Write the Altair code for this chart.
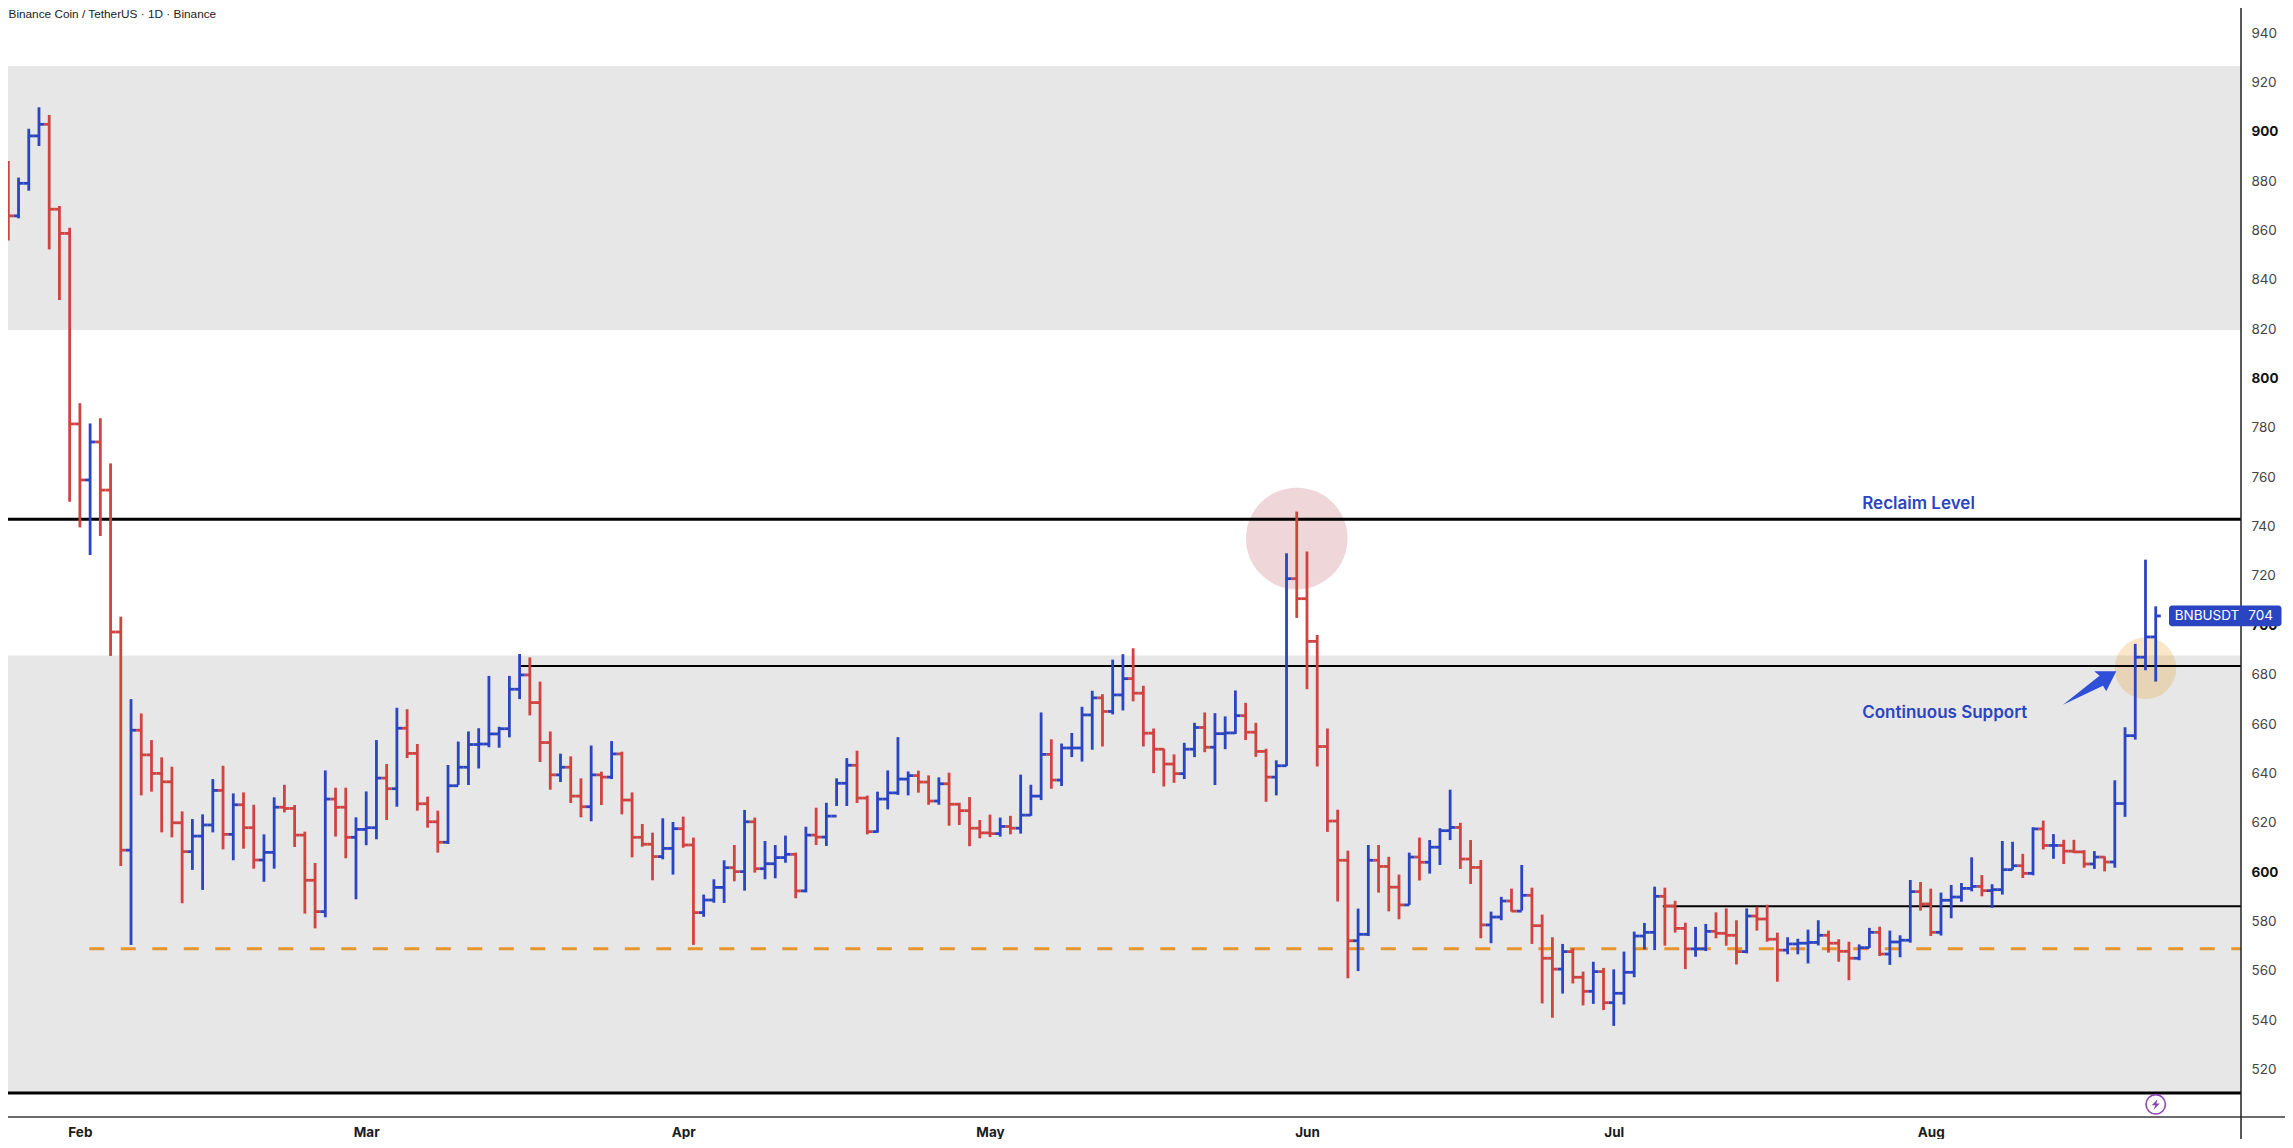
import altair as alt
import pandas as pd

highs = [888.1,881.4,901.2,909.9,906.8,869.9,861.1,790.0,781.8,783.9,765.6,
703.5,670.1,664.3,653.5,646.5,642.7,624.6,621.5,623.4,637.7,
643.1,631.9,632.3,627.3,615.3,630.3,635.4,627.2,616.4,603.7,
641.2,634.2,634.2,622.2,632.7,653.5,643.8,666.6,666.0,651.9,
630.6,624.9,643.4,652.9,657.0,658.3,679.5,658.9,679.5,688.4,
687.0,677.2,657.0,648.0,646.9,638.0,651.3,640.7,653.1,648.8,
632.3,619.5,616.0,621.8,620.3,622.5,614.0,590.9,597.1,604.8,
611.0,625.2,622.1,612.6,611.0,614.8,607.9,618.4,626.1,628.1,
638.0,646.2,649.2,631.0,632.6,641.2,654.7,640.8,641.1,639.2,
638.4,640.3,628.1,630.4,621.1,623.3,622.1,622.8,639.5,635.4,
664.7,653.8,652.1,656.4,667.0,673.5,672.1,686.1,688.3,690.7,
675.5,658.2,650.0,647.7,652.4,660.5,664.7,664.4,663.1,673.6,
668.6,660.5,650.0,645.3,729.2,746.1,729.9,696.1,658.2,625.3,
608.7,585.2,611.0,611.0,606.2,599.0,607.9,614.0,613.0,617.8,
633.4,620.0,613.0,604.9,584.0,590.0,593.3,602.9,593.7,582.8,
573.6,570.9,569.1,559.7,563.7,561.2,560.6,567.8,575.9,579.4,
594.1,593.7,588.4,579.5,577.8,579.0,583.7,585.3,580.5,585.3,
586.0,586.8,575.5,573.6,573.0,576.7,580.5,576.3,572.8,571.8,
570.7,577.4,577.9,576.3,574.4,596.8,596.0,593.3,591.7,594.8,
595.6,606.0,598.8,595.1,612.6,612.3,607.4,618.2,620.9,615.4,
613.1,613.1,608.9,608.5,606.4,637.2,658.7,692.5,726.6,707.7]

lows = [855.9,864.9,876.1,894.2,852.3,831.8,750.1,739.7,728.5,736.2,687.6,
602.5,570.5,631.1,632.6,616.1,614.1,587.4,600.9,592.8,616.1,
609.2,604.8,609.5,601.4,596.1,601.4,624.2,610.2,583.2,577.2,
581.7,614.4,605.6,589.0,610.9,613.3,621.1,626.5,646.2,624.9,
618.0,607.9,611.4,635.3,635.3,642.0,650.6,650.4,654.6,670.1,
663.5,644.6,633.4,636.5,628.0,622.2,620.6,627.2,637.7,623.4,
606.0,610.3,596.7,605.2,599.0,609.9,570.5,581.9,587.6,587.5,
596.3,592.5,599.8,597.1,597.5,603.8,589.4,591.8,611.0,610.6,
626.8,626.8,628.0,615.3,616.0,625.4,631.3,631.1,632.2,627.3,
627.3,618.8,619.1,610.5,613.7,614.2,614.4,615.3,615.6,622.8,
629.2,633.8,634.9,646.6,644.8,649.6,650.9,663.9,665.5,669.2,
650.9,640.1,634.7,636.2,637.7,646.6,648.6,635.3,649.8,656.0,
653.5,646.7,628.5,631.1,643.0,703.0,674.1,642.8,616.3,588.1,
557.0,559.9,574.1,591.7,584.1,580.9,586.7,596.6,599.4,602.9,
613.0,601.3,595.2,573.2,571.2,580.5,584.0,584.4,570.9,546.8,
541.0,550.8,554.9,546.0,546.6,544.1,537.7,546.4,557.4,568.7,
568.4,570.2,575.5,560.7,565.7,568.0,573.2,570.2,562.6,567.1,
576.3,571.8,555.6,566.7,566.7,563.0,570.3,567.4,563.7,556.2,
564.3,569.3,566.0,562.4,565.5,571.4,584.4,574.1,574.3,581.3,
588.0,592.2,590.2,585.5,590.9,601.0,597.6,598.7,609.2,605.4,
603.3,607.7,601.8,601.3,600.3,601.8,622.4,653.7,681.8,677.2]

closes = [865.9,879.1,898.3,903.0,868.6,858.8,781.6,758.9,774.3,754.8,697.3,
608.9,657.5,647.5,640.0,636.6,620.0,608.3,614.6,619.1,633.1,
615.3,627.3,618.0,604.9,608.0,626.3,625.8,615.0,596.7,584.0,
629.6,626.3,614.1,617.3,618.0,638.1,633.8,658.3,648.1,627.7,
620.4,612.1,635.0,642.5,651.7,651.9,656.0,658.1,674.1,679.9,
668.7,652.5,639.4,642.5,630.8,626.5,639.4,638.5,647.9,629.2,
614.1,611.3,606.3,609.6,617.6,611.0,583.6,588.7,593.8,601.8,
600.2,620.4,601.4,603.4,605.9,607.2,592.4,615.0,614.2,622.7,
636.0,643.3,630.0,616.4,629.6,632.1,637.7,639.1,636.5,628.8,
635.8,627.5,624.9,617.8,615.9,615.6,618.5,617.8,623.1,630.8,
647.7,637.3,650.3,650.3,663.7,670.6,665.1,671.8,678.4,672.5,
656.3,649.8,643.8,639.9,649.8,658.6,650.6,656.1,656.4,663.4,
656.7,648.9,638.5,643.1,718.9,710.8,693.5,650.9,620.7,604.8,
572.2,574.8,604.8,602.3,593.9,586.7,606.1,604.0,610.1,616.8,
618.1,605.3,601.9,578.6,581.8,588.3,584.2,590.6,578.3,565.1,
560.7,567.8,557.4,551.7,559.7,547.1,550.9,559.4,574.1,575.6,
590.2,586.3,577.2,568.9,568.9,576.0,575.2,574.4,567.8,582.2,
581.0,572.8,568.4,570.9,571.2,571.5,574.4,571.2,567.9,565.1,
569.4,575.6,566.8,571.7,572.4,592.1,587.1,575.6,588.6,589.9,
593.4,594.2,592.5,592.9,601.0,602.6,599.5,617.5,610.8,610.8,
608.5,608.2,603.3,606.1,604.1,627.8,655.3,687.1,695.3,703.8]

first_open = 886.9
opens = [first_open] + closes[:-1]

month_days = [7, 35, 66, 96, 127, 157, 188]
month_names = ["Feb", "Mar", "Apr", "May", "Jun", "Jul", "Aug"]
price_ticks = list(range(520, 941, 20))

BLUE = "#2A44C2"
RED = "#CF4341"
ORANGE = "#E8952E"
GREY = "#E7E7E7"
FONT = "Inter"

X_MIN, X_MAX = -0.03, 218.34
Y_MIN, Y_MAX = 500.78, 950.13
X_END = 229

xscale = alt.Scale(domain=[X_MIN, X_MAX], nice=False, zero=False)
yscale = alt.Scale(domain=[Y_MIN, Y_MAX], nice=False, zero=False)
X = alt.X("x:Q", scale=xscale, title=None)
X2 = alt.X2("x2:Q")
Y = alt.Y("y:Q", scale=yscale, title=None)
Y2 = alt.Y2("y2:Q")

bars = pd.DataFrame({"day": range(len(closes)), "open": opens, "high": highs,
                     "low": lows, "close": closes})
bars["dir"] = ["up" if c >= o else "down" for o, c in zip(opens, closes)]
bars["left"] = bars["day"] - 0.5
bars["right"] = bars["day"] + 0.5

color = alt.Color("dir:N", scale=alt.Scale(domain=["up", "down"], range=[BLUE, RED]), legend=None)
BAR_W = 2.8

base_axes = alt.Chart(pd.DataFrame({"x": [0.0], "y": [600.0]})).mark_point(opacity=0).encode(
    x=alt.X("x:Q", scale=xscale, title=None, axis=alt.Axis(
        values=month_days, orient="bottom",
        labelExpr="{" + ",".join(f"{d}:'{n}'" for d, n in zip(month_days, month_names)) + "}[datum.value]",
        labelFont=FONT, labelFontSize=13.5, labelFontWeight="bold", labelColor="#1c1c1c",
        labelPadding=8, labelOverlap=False, labelFlush=False, labelBound=False)),
    y=alt.Y("y:Q", scale=yscale, title=None, axis=alt.Axis(
        values=price_ticks, orient="right",
        labelFont=FONT, labelFontSize=13.5, labelPadding=10, labelOverlap=False,
        labelFlush=False, labelBound=False, labelAlign="left",
        labelFontWeight=alt.expr("datum.value % 100 == 0 ? 'bold' : 'normal'"),
        labelColor=alt.expr("datum.value % 100 == 0 ? '#111111' : '#444444'"))),
)

band_tops = [926.6, 687.8]
band_bottoms = [819.7, 510.6]
bands = alt.Chart(pd.DataFrame({"x": [X_MIN] * 2, "x2": [X_MAX] * 2, "y": band_tops, "y2": band_bottoms})
    ).mark_rect(color=GREY).encode(x=X, x2=X2, y=Y, y2=Y2)

circle_days = [126, 209.0]
circle_prices = [735.2, 682.6]
circle_sizes = [10323, 3795]
circle_colors = ["#B8434F", "#E78C08"]
circles = alt.Chart(pd.DataFrame({"x": circle_days, "y": circle_prices, "s": circle_sizes, "c": circle_colors})
    ).mark_circle(opacity=0.22).encode(
        x=X, y=Y, size=alt.Size("s:Q", scale=None, legend=None),
        color=alt.Color("c:N", scale=None, legend=None))

line_prices = [743.0, 683.5, 586.2, 510.5]
line_starts = [X_MIN, 50.0, 161.8, X_MIN]
line_widths = [3.0, 2.0, 2.0, 3.2]
hlines = alt.Chart(pd.DataFrame({"x": line_starts, "x2": [X_MAX] * 4, "y": line_prices, "w": line_widths})
    ).mark_rule(color="#000000").encode(
        x=X, x2=X2, y=Y, strokeWidth=alt.StrokeWidth("w:Q", scale=None, legend=None))

support = alt.Chart(pd.DataFrame({"x": [7.92], "x2": [X_MAX], "y": [569.0]})
    ).mark_rule(color=ORANGE, strokeWidth=3, strokeDash=[15, 16.5]).encode(x=X, x2=X2, y=Y)

axis_h = alt.Chart(pd.DataFrame({"x": [X_MIN], "x2": [X_END], "y": [Y_MIN]})
    ).mark_rule(color="#3a3a3a", strokeWidth=1.5).encode(x=X, x2=X2, y=Y)
axis_v = alt.Chart(pd.DataFrame({"x": [X_MAX], "y": [Y_MAX], "y2": [489.5]})
    ).mark_rule(color="#222222", strokeWidth=1.5).encode(x=X, y=Y, y2=Y2)

wicks = alt.Chart(bars).mark_rule(strokeWidth=BAR_W).encode(
    x=alt.X("day:Q", scale=xscale, title=None),
    y=alt.Y("low:Q", scale=yscale, title=None), y2="high:Q", color=color)
open_ticks = alt.Chart(bars).mark_rule(strokeWidth=BAR_W).encode(
    x=alt.X("left:Q", scale=xscale, title=None), x2="day:Q",
    y=alt.Y("open:Q", scale=yscale, title=None), color=color)
close_ticks = alt.Chart(bars).mark_rule(strokeWidth=BAR_W).encode(
    x=alt.X("day:Q", scale=xscale, title=None), x2="right:Q",
    y=alt.Y("close:Q", scale=yscale, title=None), color=color)

notes = ["Reclaim Level", "Continuous Support"]
notes_x = [181.3, 181.3]
notes_y = [749.3, 664.6]
note_text = alt.Chart(pd.DataFrame({"x": notes_x, "y": notes_y, "t": notes})
    ).mark_text(font=FONT, fontSize=17, fontWeight=600, color=BLUE, align="left", baseline="middle"
    ).encode(x=X, y=Y, text="t:N")

arrow_path = "M-27.3,16.7 L9.3,-12.3 L4,-16.7 L26,-16.7 L16,3.3 L12.7,-2.3 Z"
arrow = alt.Chart(pd.DataFrame({"x": [203.6], "y": [674.6]})
    ).mark_point(shape=arrow_path, filled=True, size=4, opacity=1, color="#2F4FD8", strokeWidth=0
    ).encode(x=X, y=Y)

header = alt.Chart(pd.DataFrame({"x": [X_MIN + 0.05], "y": [947.6], "t": ["Binance Coin / TetherUS · 1D · Binance"]})
    ).mark_text(font="Liberation Sans", fontSize=11.8, color="#222222", align="left", baseline="middle"
    ).encode(x=X, y=Y, text="t:N")

tag = alt.Chart(pd.DataFrame({"x": [211.3], "x2": [222.3], "y": [708.0], "y2": [699.6]})
    ).mark_rect(color=BLUE, cornerRadius=3).encode(x=X, x2=X2, y=Y, y2=Y2)
tag_labels = ["BNBUSDT", "704"]
tag_x = [211.85, 219.05]
tag_text = alt.Chart(pd.DataFrame({"x": tag_x, "y": [703.9, 703.9], "t": tag_labels})
    ).mark_text(font=FONT, fontSize=13.5, color="#FFFFFF", align="left", baseline="middle"
    ).encode(x=X, y=Y, text="t:N")

ring = alt.Chart(pd.DataFrame({"x": [210.0], "y": [505.9]})
    ).mark_point(shape="circle", size=376, filled=False, color="#8E44AD", strokeWidth=1.6, opacity=1
    ).encode(x=X, y=Y)
bolt = alt.Chart(pd.DataFrame({"x": [210.0], "y": [505.9]})
    ).mark_point(shape="M1.8,-5.2 L-4,0.8 L-0.6,0.8 L-1.8,5.2 L4,-0.8 L0.6,-0.8 Z", size=4, filled=True,
                 color="#8E44AD", strokeWidth=0, opacity=1).encode(x=X, y=Y)

chart = alt.layer(
    base_axes, bands, circles, hlines, support, axis_h, axis_v, wicks, open_ticks, close_ticks,
    note_text, arrow, header, tag, tag_text, ring, bolt,
).properties(
    width=2233, height=1109, background="#FFFFFF",
    padding={"left": 0, "top": 0, "right": 44, "bottom": 22},
    autosize=alt.AutoSizeParams(type="none"),
).configure_view(stroke=None).configure_axis(grid=False, domain=False, ticks=False)

chart.save("out.html", embed_options={"renderer": "svg", "actions": False})
